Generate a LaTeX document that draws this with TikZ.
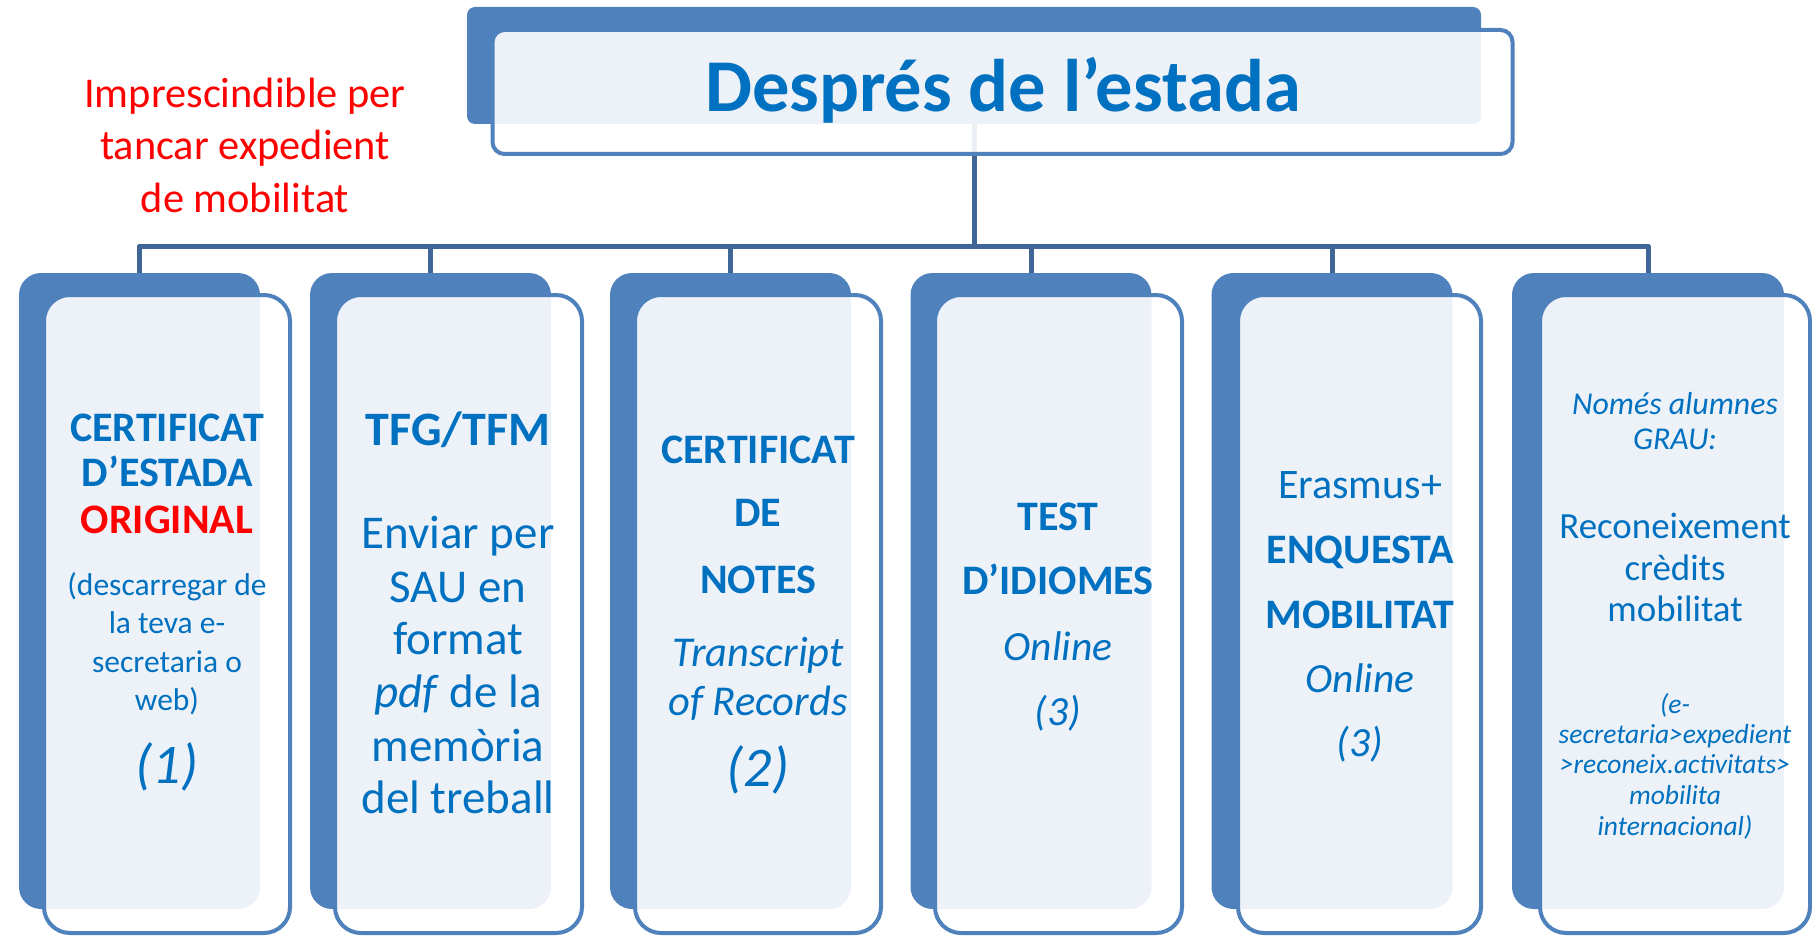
\documentclass[tikz,border=0pt]{standalone}
\usepackage{fontspec}
\setmainfont{Carlito}
\definecolor{accent}{RGB}{79,129,189}
\definecolor{connc}{RGB}{64,102,152}
\definecolor{tblue}{RGB}{0,112,192}
\definecolor{tred}{RGB}{255,0,0}
\tikzset{
  backbox/.style={fill=accent, draw=none, inner sep=0pt, outer sep=0pt, rounded corners=22pt},
  frontbox/.style={draw=accent, line width=4pt, fill=white, fill opacity=0.9, inner sep=0pt, outer sep=0pt, rounded corners=26pt},
  conn/.style={draw=connc, line width=5pt, line join=round},
  tl/.style={anchor=base, inner sep=0pt, outer sep=0pt, text=tblue},
  fbold/.style={font=\bfseries\fontsize{42}{50}\selectfont},
  fbig/.style={font=\bfseries\fontsize{48}{56}\selectfont},
  freg/.style={font=\fontsize{42}{50}\selectfont},
  fregbig/.style={font=\fontsize{47}{55}\selectfont},
  fsmall/.style={font=\fontsize{31.5}{38}\selectfont},
  fit/.style={font=\itshape\fontsize{41.5}{50}\selectfont},
  fnum/.style={font=\itshape\fontsize{56}{64}\selectfont},
  fsit/.style={font=\itshape\fontsize{31.8}{38}\selectfont},
  fmid/.style={font=\fontsize{36.9}{44}\selectfont},
  ftiny/.style={font=\itshape\fontsize{27.5}{33}\selectfont},
}
\begin{document}
\begin{tikzpicture}[x=1pt,y=-1pt]
\useasboundingbox (0,0) rectangle (1812,936);
% title boxes
\node[backbox, rounded corners=8pt, minimum width=1014pt, minimum height=117pt] (tb) at (974,65.5) {};
\coordinate (hub) at (974.5,246);
% column back boxes
\node[backbox, minimum width=241pt, minimum height=636pt] (b1) at (139.5,591) {};
\node[backbox, minimum width=241pt, minimum height=636pt] (b2) at (430.5,591) {};
\node[backbox, minimum width=241pt, minimum height=636pt] (b3) at (730.5,591) {};
\node[backbox, minimum width=241pt, minimum height=636pt] (b4) at (1031,591) {};
\node[backbox, minimum width=241pt, minimum height=636pt] (b5) at (1332,591) {};
\node[backbox, minimum width=272pt, minimum height=636pt] (b6) at (1648,591) {};
% connectors
\draw[conn] (tb.south) -- (tb.south |- hub);
\draw[conn] (b1.north) -- (b1.north |- hub) -- (b6.north |- hub) -- (b6.north);
\draw[conn] (b2.north) -- (b2.north |- hub);
\draw[conn] (b3.north) -- (b3.north |- hub);
\draw[conn] (b4.north) -- (b4.north |- hub);
\draw[conn] (b5.north) -- (b5.north |- hub);
% front boxes
\node[frontbox, rounded corners=12pt, minimum width=1020pt, minimum height=124pt] (tf) at (1002.5,92) {};
\node[frontbox, minimum width=246pt, minimum height=638pt] (f1) at (167,614) {};
\node[frontbox, minimum width=247pt, minimum height=638pt] (f2) at (458.5,614) {};
\node[frontbox, minimum width=246pt, minimum height=638pt] (f3) at (758,614) {};
\node[frontbox, minimum width=247pt, minimum height=638pt] (f4) at (1058.5,614) {};
\node[frontbox, minimum width=243pt, minimum height=638pt] (f5) at (1359.5,614) {};
\node[frontbox, minimum width=270pt, minimum height=638pt] (f6) at (1675,614) {};
% title text
\node[tl, font=\bfseries\fontsize{74.5}{82}\selectfont] (title) at (1003,112) {Després de l’estada};
% red note
\node[tl, text=tred, font=\fontsize{42.4}{50}\selectfont] (r1) at (245,108) {Imprescindible per};
\node[tl, text=tred, font=\fontsize{42.4}{50}\selectfont] (r2) at (245,160) {tancar expedient};
\node[tl, text=tred, font=\fontsize{42.4}{50}\selectfont] (r3) at (245,212) {de mobilitat};
% column 1
\node[tl, fbold] (c1a) at (167,441) {CERTIFICAT};
\node[tl, fbold] (c1b) at (167,486) {D’ESTADA};
\node[tl, fbold, text=tred] (c1c) at (167,533) {ORIGINAL};
\node[tl, fsmall] (c1d) at (167,595) {(descarregar de};
\node[tl, fsmall] (c1e) at (167,633) {la teva e-};
\node[tl, fsmall] (c1f) at (167,672) {secretaria o};
\node[tl, fsmall] (c1g) at (167,710) {web)};
\node[tl, fnum] (c1h) at (167,783) {(1)};
% column 2
\node[tl, fbig] (c2a) at (458,445) {TFG/TFM};
\node[tl, fregbig] (c2b) at (458,548) {Enviar per};
\node[tl, fregbig] (c2c) at (458,602) {SAU en};
\node[tl, fregbig] (c2d) at (458,654) {format};
\node[tl, fregbig] (c2e) at (458,707) {\textit{pdf} de la};
\node[tl, fregbig] (c2f) at (458,761) {memòria};
\node[tl, fregbig] (c2g) at (458,813) {del treball};
% column 3
\node[tl, fbold] (c3a) at (758,463) {CERTIFICAT};
\node[tl, fbold] (c3b) at (758,526) {DE};
\node[tl, fbold] (c3c) at (758,593) {NOTES};
\node[tl, fit, font=\itshape\fontsize{42.5}{50}\selectfont] (c3d) at (758,666) {Transcript};
\node[tl, fit, font=\itshape\fontsize{42.5}{50}\selectfont] (c3e) at (758,715) {of Records};
\node[tl, fnum] (c3f) at (758,786) {(2)};
% column 4
\node[tl, fbold] (c4a) at (1058,530) {TEST};
\node[tl, fbold] (c4b) at (1058,594) {D’IDIOMES};
\node[tl, fit] (c4c) at (1058,660) {Online};
\node[tl, fit] (c4d) at (1058,725) {(3)};
% column 5
\node[tl, freg] (c5a) at (1360,498) {Erasmus+};
\node[tl, fbold] (c5b) at (1360,563) {ENQUESTA};
\node[tl, fbold] (c5c) at (1360,628) {MOBILITAT};
\node[tl, fit] (c5d) at (1360,692) {Online};
\node[tl, fit] (c5e) at (1360,756) {(3)};
% column 6
\node[tl, fsit] (c6a) at (1675,414) {Només alumnes};
\node[tl, fsit] (c6b) at (1675,449) {GRAU:};
\node[tl, fmid] (c6c) at (1675,538) {Reconeixement};
\node[tl, fmid] (c6d) at (1675,580) {crèdits};
\node[tl, fmid] (c6e) at (1675,621) {mobilitat};
\node[tl, ftiny] (c6f) at (1675,713) {(e-};
\node[tl, ftiny] (c6g) at (1675,743) {secretaria>expedient};
\node[tl, ftiny] (c6h) at (1675,773) {>reconeix.activitats>};
\node[tl, ftiny] (c6i) at (1675,804) {mobilita};
\node[tl, ftiny] (c6j) at (1675,835) {internacional)};
\end{tikzpicture}
\end{document}
